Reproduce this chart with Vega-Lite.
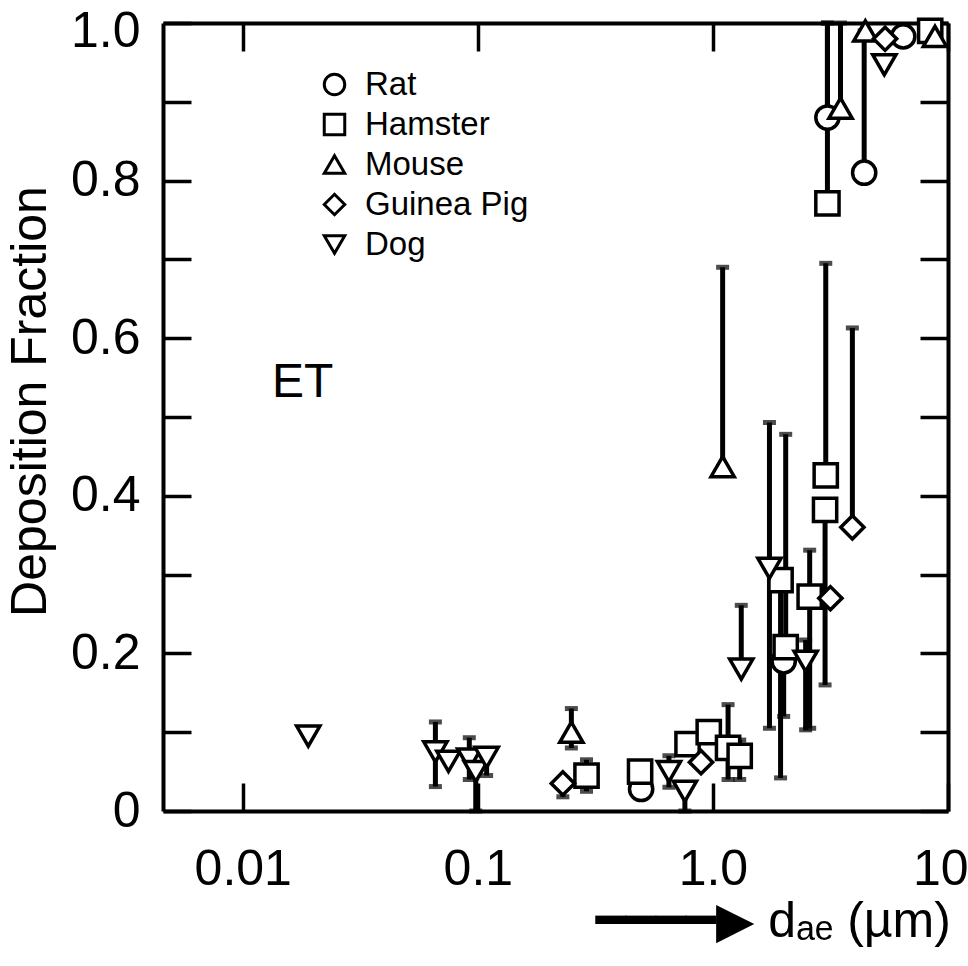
{
  "$schema": "https://vega.github.io/schema/vega-lite/v6.json",
  "width": 785,
  "height": 788,
  "autosize": "none",
  "padding": {"left": 163, "top": 23, "right": 20, "bottom": 155},
  "background": "white",
  "config": {
    "view": {"stroke": null},
    "font": "Liberation Sans",
    "axis": {
      "domainColor": "black", "domainWidth": 4,
      "tickColor": "black", "tickWidth": 3.5, "tickSize": -28,
      "labelFont": "Liberation Sans", "labelFontSize": 50, "labelColor": "black",
      "titleFont": "Liberation Sans", "titleFontSize": 50, "titleColor": "black", "titleFontWeight": "normal",
      "grid": false
    }
  },
  "data": {
    "values": [
      {"s": "Rat", "x": 0.495, "y": 0.028},
      {"s": "Rat", "x": 2.0, "y": 0.19, "lo": 0.12, "hi": 0.19},
      {"s": "Rat", "x": 3.07, "y": 0.88, "lo": 0.88, "hi": 1.0},
      {"s": "Rat", "x": 4.4, "y": 0.81, "lo": 0.81, "hi": 0.99},
      {"s": "Rat", "x": 6.45, "y": 0.983},
      {"s": "Hamster", "x": 0.29, "y": 0.045, "lo": 0.025, "hi": 0.065},
      {"s": "Hamster", "x": 0.49, "y": 0.05},
      {"s": "Hamster", "x": 0.78, "y": 0.085},
      {"s": "Hamster", "x": 0.96, "y": 0.1},
      {"s": "Hamster", "x": 1.16, "y": 0.08, "lo": 0.04, "hi": 0.135},
      {"s": "Hamster", "x": 1.3, "y": 0.07, "lo": 0.04, "hi": 0.09},
      {"s": "Hamster", "x": 1.94, "y": 0.293, "lo": 0.042, "hi": 0.293},
      {"s": "Hamster", "x": 2.04, "y": 0.208, "lo": 0.208, "hi": 0.478},
      {"s": "Hamster", "x": 2.58, "y": 0.272, "lo": 0.105, "hi": 0.331},
      {"s": "Hamster", "x": 3.02, "y": 0.426, "lo": 0.426, "hi": 0.695},
      {"s": "Hamster", "x": 3.0, "y": 0.382, "lo": 0.16, "hi": 0.382},
      {"s": "Hamster", "x": 3.07, "y": 0.771, "lo": 0.771, "hi": 1.0},
      {"s": "Hamster", "x": 8.4, "y": 0.99},
      {"s": "Mouse", "x": 0.25, "y": 0.1, "lo": 0.08, "hi": 0.13},
      {"s": "Mouse", "x": 1.1, "y": 0.437, "lo": 0.437, "hi": 0.69},
      {"s": "Mouse", "x": 3.49, "y": 0.892, "lo": 0.892, "hi": 1.0},
      {"s": "Mouse", "x": 4.45, "y": 0.99},
      {"s": "Mouse", "x": 8.8, "y": 0.983},
      {"s": "Guinea Pig", "x": 0.23, "y": 0.035, "lo": 0.018, "hi": 0.035},
      {"s": "Guinea Pig", "x": 0.89, "y": 0.062},
      {"s": "Guinea Pig", "x": 3.16, "y": 0.27},
      {"s": "Guinea Pig", "x": 3.92, "y": 0.36, "lo": 0.36, "hi": 0.613},
      {"s": "Guinea Pig", "x": 5.4, "y": 0.98},
      {"s": "Dog", "x": 0.019, "y": 0.095},
      {"s": "Dog", "x": 0.066, "y": 0.075, "lo": 0.031, "hi": 0.113},
      {"s": "Dog", "x": 0.075, "y": 0.063},
      {"s": "Dog", "x": 0.092, "y": 0.066, "lo": 0.04, "hi": 0.093},
      {"s": "Dog", "x": 0.098, "y": 0.05, "lo": 0.0, "hi": 0.05},
      {"s": "Dog", "x": 0.109, "y": 0.068, "lo": 0.045, "hi": 0.075},
      {"s": "Dog", "x": 0.65, "y": 0.05, "lo": 0.03, "hi": 0.07},
      {"s": "Dog", "x": 0.76, "y": 0.025, "lo": 0.0, "hi": 0.025},
      {"s": "Dog", "x": 1.32, "y": 0.18, "lo": 0.18, "hi": 0.261},
      {"s": "Dog", "x": 1.74, "y": 0.308, "lo": 0.105, "hi": 0.493},
      {"s": "Dog", "x": 2.48, "y": 0.19, "lo": 0.103, "hi": 0.217},
      {"s": "Dog", "x": 5.36, "y": 0.947}
    ]
  },
  "resolve": {"axis": {"x": "independent", "y": "independent"}},
  "layer": [
    {
      "transform": [{"filter": "isValid(datum.hi)"}],
      "mark": {"type": "rule", "color": "black", "strokeWidth": 5},
      "encoding": {
        "x": {"field": "x", "type": "quantitative",
          "scale": {"type": "log", "domain": [0.00458, 10], "nice": false},
          "axis": {"orient": "bottom", "values": [0.01, 0.1, 1, 10], "labelPadding": 61,
            "labelFlush": true, "labelFlushOffset": 20,
            "labelExpr": "datum.value == 1 ? '1.0' : datum.value == 10 ? '10' : datum.value == 0.1 ? '0.1' : '0.01'",
            "title": "━━━━▶ dₐₑ (µm)", "titleFont": "Liberation Sans, DejaVu Sans",
            "titleX": 432, "titleY": 125, "titleAlign": "left", "titleBaseline": "alphabetic", "titleAngle": 0}},
        "y": {"field": "lo", "type": "quantitative",
          "scale": {"domain": [0, 1], "nice": false},
          "axis": {"orient": "left", "values": [0, 0.1, 0.2, 0.3, 0.4, 0.5, 0.6, 0.7, 0.8, 0.9, 1.0], "labelPadding": 51,
            "labelOffset": {"condition": {"test": "datum.value == 1", "value": 8}, "value": 0},
            "labelExpr": "datum.value == 0 ? '0' : (round(datum.value * 10) % 2 == 0 ? format(datum.value, '.1f') : '')",
            "title": "Deposition Fraction", "titleX": -118, "titleY": 378, "titleAngle": 270,
            "titleAlign": "center", "titleBaseline": "alphabetic"}},
        "y2": {"field": "hi"}
      }
    },
    {
      "transform": [
        {"filter": "isValid(datum.hi)"},
        {"fold": ["lo", "hi"], "as": ["end", "v"]}
      ],
      "mark": {"type": "tick", "color": "black", "orient": "horizontal", "size": 13, "thickness": 5},
      "encoding": {
        "x": {"field": "x", "type": "quantitative", "axis": null},
        "y": {"field": "v", "type": "quantitative", "axis": null}
      }
    },
    {
      "mark": {"type": "point", "filled": true, "fill": "white", "stroke": "black", "strokeWidth": 3.5, "size": 540, "opacity": 1},
      "encoding": {
        "x": {"field": "x", "type": "quantitative",
          "axis": {"orient": "top", "values": [0.01, 0.1, 1, 10], "labels": false, "title": null}},
        "y": {"field": "y", "type": "quantitative",
          "axis": {"orient": "right", "values": [0, 0.1, 0.2, 0.3, 0.4, 0.5, 0.6, 0.7, 0.8, 0.9, 1.0], "labels": false, "title": null}},
        "shape": {"field": "s", "type": "nominal",
          "scale": {"domain": ["Rat", "Hamster", "Mouse", "Guinea Pig", "Dog"],
            "range": ["circle", "square", "triangle-up", "diamond", "triangle-down"]},
          "legend": {"title": null, "orient": "none", "legendX": 155, "legendY": 45,
            "symbolSize": 420, "symbolStrokeWidth": 3, "labelOffset": 14,
            "labelFontSize": 33, "labelColor": "black", "labelLimit": 400, "labelFont": "Liberation Sans",
            "rowPadding": 6}}
      }
    },
    {
      "data": {"values": [{"label": "ET", "x": 0.018, "y": 0.543}]},
      "mark": {"type": "text", "fontSize": 48, "font": "Liberation Sans", "color": "black", "align": "center", "baseline": "middle"},
      "encoding": {
        "x": {"field": "x", "type": "quantitative", "axis": null},
        "y": {"field": "y", "type": "quantitative", "axis": null},
        "text": {"field": "label"}
      }
    }
  ]
}
